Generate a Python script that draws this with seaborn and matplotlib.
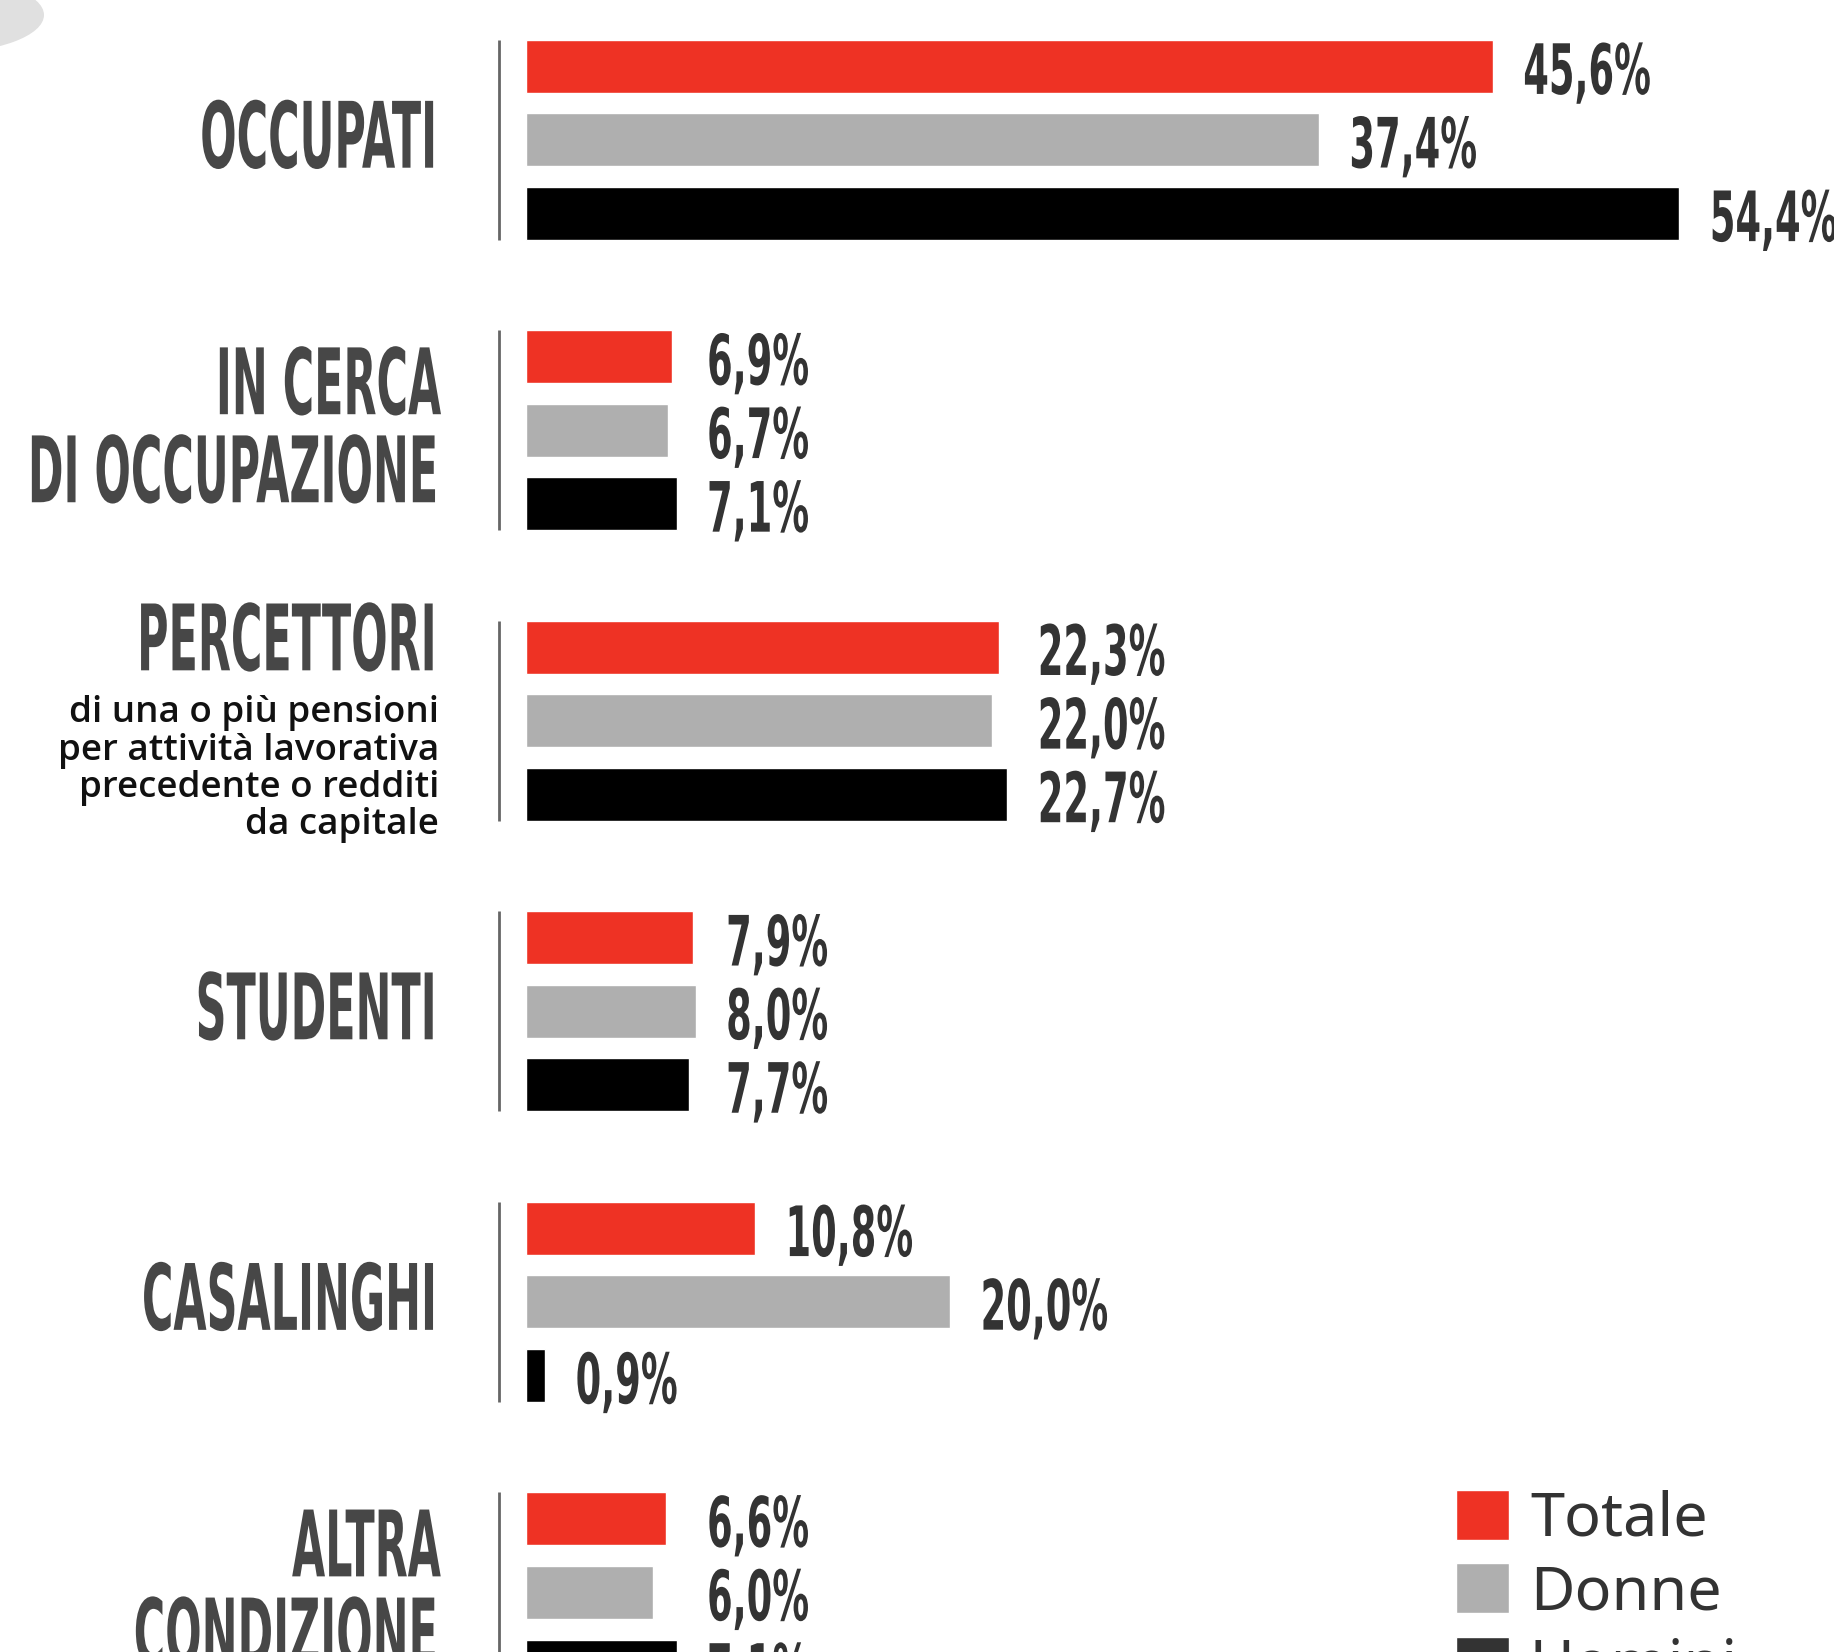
import numpy as np
import pandas as pd
import matplotlib
matplotlib.use('Agg')
import matplotlib.pyplot as plt
import seaborn as sns
from matplotlib.patheffects import AbstractPathEffect
from matplotlib.transforms import (Affine2D, Bbox, IdentityTransform,
                                   blended_transform_factory, offset_copy)
from matplotlib.patches import Ellipse
from matplotlib.text import Text

# dati (valori in %)
categorie = ['OCCUPATI', 'IN CERCA\nDI OCCUPAZIONE', 'PERCETTORI', 'STUDENTI',
             'CASALINGHI', 'ALTRA\nCONDIZIONE']
serie = ['Totale', 'Donne', 'Uomini']
totale = [45.6, 6.9, 22.3, 7.9, 10.8, 6.6]
donne = [37.4, 6.7, 22.0, 8.0, 20.0, 6.0]
uomini = [54.4, 7.1, 22.7, 7.7, 0.9, 7.1]
nota_percettori = 'di una o più pensioni\nper attività lavorativa\nprecedente o redditi\nda capitale'

colori = ['#ee3224', '#afafaf', '#000000']


class Stringi(AbstractPathEffect):
    # comprime il testo in orizzontale, per imitare un font condensato
    def __init__(self, sx, lato='left'):
        super().__init__()
        self.sx = sx
        self.lato = lato

    def draw_path(self, renderer, gc, tpath, affine, rgbFace=None):
        if self.lato == 'right':
            x0 = tpath.get_extents(affine).x1
        else:
            x0 = affine.get_matrix()[0, 2]
        sq = Affine2D().translate(-x0, 0).scale(self.sx, 1).translate(x0, 0)
        renderer.draw_path(gc, tpath, affine + sq, rgbFace)


class TestoStretto(Text):
    # testo vero, disegnato condensato; l'ingombro segue il disegno
    def __init__(self, x, y, s, sx=1.0, **kw):
        super().__init__(x, y, s, **kw)
        self.sx = sx
        self.lato = 'right' if self.get_horizontalalignment() == 'right' else 'left'
        self.set_path_effects([Stringi(sx, self.lato)])

    def get_window_extent(self, renderer=None, dpi=None):
        bb = super().get_window_extent(renderer, dpi)
        w = bb.width * self.sx
        if self.lato == 'right':
            return Bbox.from_extents(bb.x1 - w, bb.y0, bb.x1, bb.y1)
        return Bbox.from_extents(bb.x0, bb.y0, bb.x0 + w, bb.y1)


df = pd.DataFrame({
    'categoria': categorie * 3,
    'serie': np.repeat(serie, len(categorie)),
    'valore': totale + donne + uomini,
})

sns.set_style('white')
plt.rcParams['font.family'] = ['DejaVu Sans']

W, H = 1834, 1652
fig = plt.figure(figsize=(W / 100, H / 100), dpi=100)
x0_ax = 526
ax = fig.add_axes([x0_ax / W, 0, 1 - x0_ax / W, 1])

sns.barplot(data=df, y='categoria', x='valore', hue='serie', order=categorie,
            hue_order=serie, orient='h', palette=colori, saturation=1,
            width=0.76, gap=0.28, ax=ax)

px_per_pct = 21.2
ax.set_xlim(0, (W - x0_ax) / px_per_pct)
ax.set_ylim(5.205, -0.481)
ax.axis('off')

# barre raggruppate per categoria
gruppi = {i: [] for i in range(len(categorie))}
for cont in ax.containers:
    for bar in cont:
        gruppi[int(round(bar.get_y() + bar.get_height() / 2))].append(bar)

# etichette dei valori: allineate nel gruppo se i valori sono vicini
etichetta = offset_copy(ax.transData, fig=fig, x=22, y=-20, units='points')
for i, barre in gruppi.items():
    vals = [b.get_width() for b in barre]
    allinea = max(vals) - min(vals) < 2
    for bar in barre:
        v = bar.get_width()
        x_lab = max(vals) if allinea else v
        yc = bar.get_y() + bar.get_height() / 2
        ax.add_artist(TestoStretto(x_lab, yc, f'{v:.1f}%'.replace('.', ','), sx=0.53,
                                   transform=etichetta, horizontalalignment='left',
                                   verticalalignment='baseline', fontsize=50,
                                   fontweight='bold', color='#333333', clip_on=False))

# linee verticali a sinistra di ogni gruppo
x_linea = (499 - x0_ax) / px_per_pct
for i, barre in gruppi.items():
    y_top = min(b.get_y() for b in barre)
    y_bot = max(b.get_y() + b.get_height() for b in barre)
    ax.plot([x_linea, x_linea], [y_top, y_bot], color='#666666', lw=2,
            solid_capstyle='butt', clip_on=False)

# titoli dei gruppi
trans = blended_transform_factory(fig.transFigure, ax.transData)
interlinea = 0.303
for i, cat in enumerate(categorie):
    righe = cat.split('\n')
    yc = (i - 0.27 if cat == 'PERCETTORI' else i) - 0.026
    n = len(righe)
    for k, r in enumerate(righe):
        ax.add_artist(TestoStretto(441 / W, yc + (k - (n - 1) / 2) * interlinea, r,
                                   sx=0.468, transform=trans,
                                   horizontalalignment='right',
                                   verticalalignment='center_baseline',
                                   fontsize=66, fontweight='bold', color='#474747',
                                   clip_on=False))

ax.text(439 / W, 2 - 0.088, nota_percettori, transform=trans, ha='right', va='top',
        fontsize=26.5, family='Open Sans', fontweight='semibold', color='#111111',
        linespacing=1.05)

# legenda
leg = ax.legend(loc='upper left', bbox_to_anchor=(1456 / W, 1 - 1490 / H),
                bbox_transform=fig.transFigure, frameon=False,
                prop={'family': 'Noto Sans', 'size': 44},
                handlelength=0.87, handleheight=0.87, handletextpad=0.34,
                labelspacing=0.2, borderpad=0, borderaxespad=0)
for txt in leg.get_texts():
    txt.set_color('#333333')
leg.legend_handles[2].set_facecolor('#333333')

# decorazione grigia in alto a sinistra
fig.add_artist(Ellipse((-60, H - 15), 208, 76, transform=IdentityTransform(),
                       color='#e0e0e0', lw=0))

plt.savefig('out.png', dpi=100)
